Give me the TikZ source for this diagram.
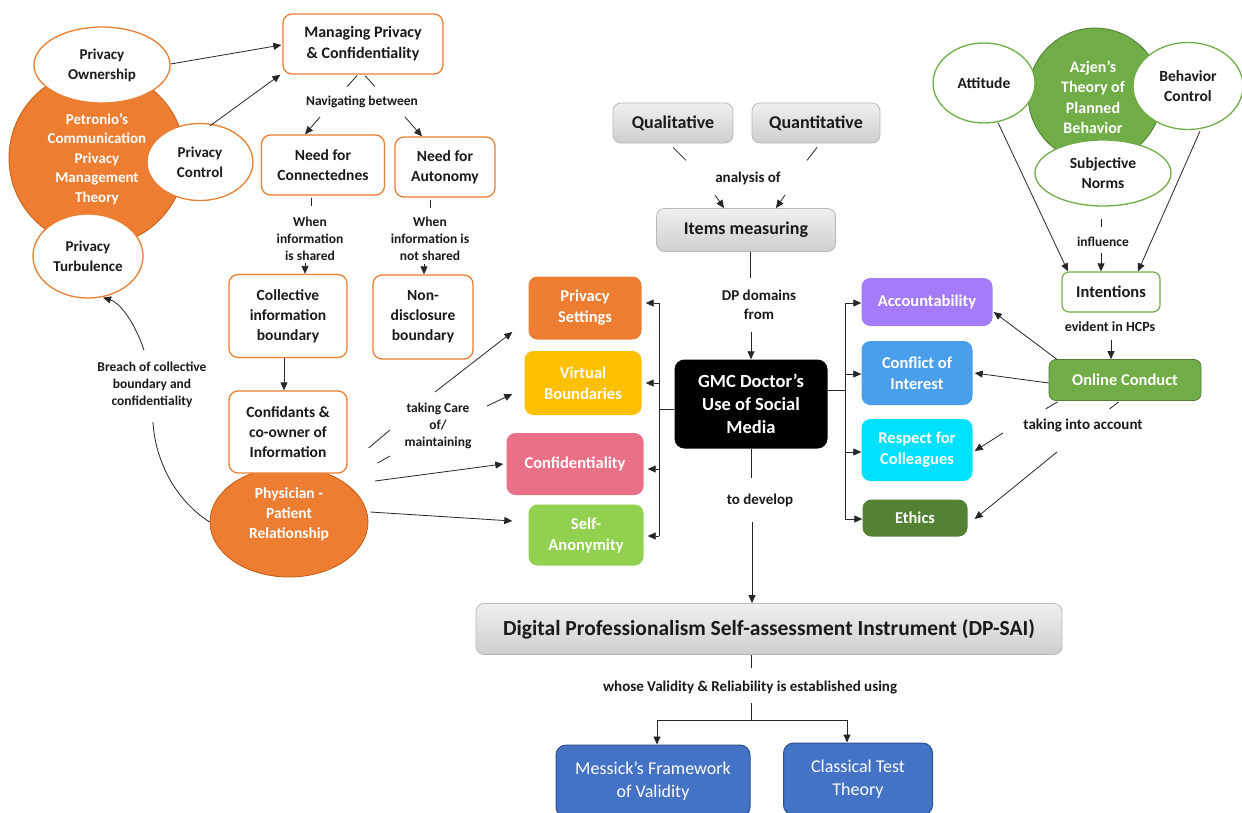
\documentclass[tikz,border=0pt]{standalone}
\usepackage{fontspec}
\setmainfont{Carlito}
\usetikzlibrary{arrows.meta,shapes.geometric,calc}
\definecolor{orC}{HTML}{ED7D31}
\definecolor{orD}{HTML}{C55A11}
\definecolor{yeC}{HTML}{FFC000}
\definecolor{piC}{HTML}{E97086}
\definecolor{lgC}{HTML}{92D050}
\definecolor{puC}{HTML}{A47BF9}
\definecolor{blC}{HTML}{4A9FEC}
\definecolor{cyC}{HTML}{00E0FF}
\definecolor{dgC}{HTML}{548235}
\definecolor{grC}{HTML}{70AD47}
\definecolor{grD}{HTML}{507E32}
\definecolor{dbC}{HTML}{4472C4}
\definecolor{dbD}{HTML}{2F528F}
\definecolor{txC}{HTML}{1A1A1A}
\begin{document}
\begin{tikzpicture}[x=1pt,y=-1pt,
  sz/.style 2 args={minimum width=#1,minimum height=#2},
  base/.style={font=\bfseries\fontsize{15.5}{20}\selectfont,align=center,inner sep=0pt,text=txC},
  obox/.style={base,draw=orC,line width=1.3pt,fill=white,rounded corners=9pt},
  oell/.style={base,ellipse,draw=orC,line width=1.3pt,fill=white,font=\bfseries\fontsize{15}{20}\selectfont},
  gell/.style={base,ellipse,draw=grC,line width=1.3pt,fill=white,font=\bfseries\fontsize{15.5}{20}\selectfont},
  cbox/.style={base,rounded corners=9pt,text=white,font=\bfseries\fontsize{16.5}{21}\selectfont},
  gbox/.style={base,rounded corners=8pt,top color=gray!12,bottom color=gray!38,draw=gray!55,line width=0.8pt,font=\bfseries\fontsize{18}{22}\selectfont},
  bbox/.style={base,rounded corners=10pt,fill=dbC,draw=dbD,line width=1pt,text=white,font=\fontsize{18}{23}\selectfont},
  lab/.style={font=\bfseries\fontsize{13.5}{17}\selectfont,align=center,inner sep=1pt,text=txC},
  labB/.style={font=\bfseries\fontsize{15}{19}\selectfont,align=center,inner sep=1pt,text=txC},
  ln/.style={line width=0.8pt,draw=black!85},
  arr/.style={ln,-{Triangle[length=8pt,width=7pt]}}
]
\useasboundingbox (0,0) rectangle (1242,812);
\fill[white] (0,0) rectangle (1242,812);

% ---------- Petronio cluster ----------
\node[circle,fill=orC,draw=orD,line width=0.8pt,minimum size=176,inner sep=0pt] (pet) at (97,158) {};
\node[base,text=white,font=\bfseries\fontsize{15}{19.5}\selectfont] (petT) at (97,159) {Petronio’s\\Communication\\Privacy\\Management\\Theory};
\node[oell,sz={136}{76}] (own) at (102,65) {Privacy\\Ownership};
\node[oell,sz={106}{77}] (ctl) at (200,162) {Privacy\\Control};
\node[oell,sz={110}{84}] (turb) at (88,256) {Privacy\\Turbulence};

% ---------- orange boxes ----------
\node[obox,sz={160}{60},font=\bfseries\fontsize{16}{21}\selectfont] (man) at (363,44) {Managing Privacy\\\& Confidentiality};
\node[obox,sz={123}{60}] (conn) at (323,165) {Need for\\Connectednes};
\node[obox,sz={100}{60}] (aut) at (445,167) {Need for\\Autonomy};
\node[obox,sz={118}{83}] (coll) at (288,316) {Collective\\information\\boundary};
\node[obox,sz={100}{84}] (nond) at (423,317) {Non-\\disclosure\\boundary};
\node[ellipse,fill=orC,draw=orD,line width=0.8pt,sz={158}{110},inner sep=0pt] (phys) at (289,522) {};
\node[base,text=white] (physT) at (289,514) {Physician -\\Patient\\Relationship};
\node[obox,sz={118}{82}] (conf) at (288,432) {Confidants \&\\co-owner of\\Information};

% labels left
\node[lab] (nav) at (362,102) {Navigating between};
\node[lab] (whS) at (310,239) {When\\information\\is shared};
\node[lab] (whN) at (430,239) {When\\information is\\not shared};
\node[lab] (brc) at (152,385) {Breach of collective\\boundary and\\confidentiality};
\node[lab] (care) at (438,426) {taking Care\\of/\\maintaining};

% ---------- center ----------
\node[gbox,sz={120}{40}] (qual) at (673,123) {Qualitative};
\node[gbox,sz={128}{40}] (quan) at (816,123) {Quantitative};
\node[labB] (ana) at (748,178) {analysis of};
\node[gbox,sz={179}{43}] (items) at (746,230) {Items measuring};
\node[labB] (dpd) at (759,305) {DP domains\\from};
\node[base,rounded corners=10pt,fill=black,text=white,sz={153}{89},font=\bfseries\fontsize{18.5}{23}\selectfont] (gmc) at (751,404) {GMC Doctor’s\\Use of Social\\Media};
\node[labB] (dev) at (760,500) {to develop};
\node[gbox,sz={586}{51},font=\bfseries\fontsize{21.5}{24}\selectfont] (dps) at (769,629) {Digital Professionalism Self-assessment Instrument (DP-SAI)};
\node[labB] (whose) at (750,687) {whose Validity \& Reliability is established using};
\node[bbox,sz={194}{72}] (mes) at (653,781) {Messick’s Framework\\of Validity};
\node[bbox,sz={149}{72}] (ctt) at (858,779) {Classical Test\\Theory};

% colored domain boxes
\node[cbox,fill=orC,sz={113}{63}] (ps) at (585,308) {Privacy\\Settings};
\node[cbox,fill=yeC,sz={117}{64}] (vb) at (583,383) {Virtual\\Boundaries};
\node[cbox,fill=piC,sz={137}{62}] (cf) at (575,464) {Confidentiality};
\node[cbox,fill=lgC,sz={115}{61}] (sa) at (586,535) {Self-\\Anonymity};
\node[cbox,fill=puC,sz={131}{48}] (acc) at (927,302) {Accountability};
\node[cbox,fill=blC,sz={111}{64}] (coi) at (917,373) {Conflict of\\Interest};
\node[cbox,fill=cyC,sz={111}{62}] (rfc) at (917,450) {Respect for\\Colleagues};
\node[cbox,fill=dgC,sz={105}{37}] (eth) at (915,518) {Ethics};

% ---------- Azjen cluster ----------
\node[circle,fill=grC,draw=grD,line width=0.8pt,minimum size=134,inner sep=0pt] (azj) at (1095,95) {};
\node[base,text=white,font=\bfseries\fontsize{16}{20.5}\selectfont] (azjT) at (1093,97) {Azjen’s\\Theory of\\Planned\\Behavior};
\node[gell,sz={102}{80}] (att) at (984,83) {Attitude};
\node[gell,sz={110}{87}] (bc) at (1188,86) {Behavior\\Control};
\node[gell,sz={136}{66}] (sn) at (1103,173) {Subjective\\Norms};
\node[lab] (infl) at (1103,242) {influence};
\node[base,draw=grC,line width=1.2pt,fill=white,rounded corners=7pt,sz={98}{40},font=\bfseries\fontsize{16.5}{20}\selectfont] (int) at (1111,292) {Intentions};
\node[lab,font=\bfseries\fontsize{14}{17}\selectfont] (evid) at (1110,327) {evident in HCPs};
\node[cbox,fill=grC,draw=grD,line width=0.8pt,rounded corners=7pt,sz={152}{41}] (onl) at (1125,380) {Online Conduct};
\node[labB] (tia) at (1083,425) {taking into account};

% bracket coordinates
\coordinate (lb) at (659,409);
\coordinate (rb) at (845,390);
\coordinate (bb) at (751,720);

% ---------- connectors: left ----------
\draw[arr] ($(own.east)+(0,-1)$) -- ($(man.west)+(-1,1)$);
\draw[arr] ($(ctl.north)+(10,3)$) -- ($(man.south west)+(-2,0)$);
\draw[ln] ($(man.south)+(-6,1)$) -- ++(-10,11);
\draw[ln] ($(man.south)+(2,1)$) -- ++(10,11);
\draw[arr] ($(nav)+(-42,15)$) -- ($(conn.north)+(-18,0)$);
\draw[arr] ($(nav)+(43,15)$) -- ($(aut.north)+(-23,0)$);
\draw[ln] ($(conn.south)+(-12,2)$) -- ++(0,8);
\draw[ln] ($(aut.south)+(-15,2)$) -- ++(0,8);
\draw[arr] ($(whS)+(-5,24)$) -- ($(coll.north)+(17,0)$);
\draw[arr] ($(whN)+(-6,25)$) -- ($(nond.north)+(1,0)$);
\draw[arr] ($(coll.south)+(-4,0)$) -- ($(conf.north)+(-4,0)$);
\draw[ln] (phys.west) .. controls (175,500) and (155,460) .. ($(brc)+(1,37)$);
\draw[arr] ($(brc)+(-8,-35)$) .. controls (133,318) and (118,302) .. ($(turb.south)+(15,-1)$);
\draw[ln] ($(conf.east)+(21,16)$) -- ($(care)+(-48,4)$);
\draw[ln] ($(conf.east)+(30,31)$) -- ($(care)+(-48,30)$);
\draw[arr] ($(care)+(-3,-34)$) -- ($(ps.west)+(-16,24)$);
\draw[arr] ($(care)+(49,-20)$) -- ($(vb.west)+(-12,11)$);
\draw[arr] ($(phys)+(86,-41)$) -- ($(cf.west)+(-3,0)$);
\draw[arr] ($(phys.east)+(2,-10)$) -- ($(sa.west)+(-16,-14)$);

% ---------- connectors: center ----------
\draw[ln] ($(qual.south)+(0,4)$) -- ++(13,13);
\draw[ln] ($(quan.south)+(1,4)$) -- ++(-10,13);
\draw[arr] ($(ana)+(-33,17)$) -- ($(items.north)+(-22,0)$);
\draw[arr] ($(ana)+(37,17)$) -- ($(items.north)+(30,0)$);
\draw[ln] ($(items.south)+(4,0)$) -- ($(dpd)+(-9,-27)$);
\draw[arr] ($(dpd)+(-8,27)$) -- (gmc.north);
\draw[ln] ($(gmc.west)+(0,5)$) -- (lb);
\draw[ln] (lb |- 0,303) -- (lb |- 0,536);
\draw[arr] (lb |- 0,303) -- ($(ps.east)+(4,-5)$);
\draw[arr] (lb |- 0,383) -- ($(vb.east)+(4,0)$);
\draw[arr] (lb |- 0,469) -- ($(cf.east)+(4,5)$);
\draw[arr] (lb |- 0,536) -- ($(sa.east)+(4,1)$);
\draw[ln] ($(gmc.east)+(0,-14)$) -- (rb);
\draw[ln] (rb |- 0,303) -- (rb |- 0,519);
\draw[arr] (rb |- 0,303) -- ($(acc.west)+(0,1)$);
\draw[arr] (rb |- 0,374) -- ($(coi.west)+(0,1)$);
\draw[arr] (rb |- 0,452) -- ($(rfc.west)+(0,2)$);
\draw[arr] (rb |- 0,519) -- ($(eth.west)+(0,1)$);
\draw[ln] (gmc.south) -- ($(dev)+(-9,-22)$);
\draw[arr] ($(dev)+(-8,22)$) -- ($(dps.north)+(-17,0)$);
\draw[ln] ($(dps.south)+(-18,0)$) -- ($(whose)+(1,-19)$);
\draw[ln] ($(whose)+(1,16)$) -- (bb);
\draw[ln] (bb -| 0,0) ++(657,0) -- ++(190,0);
\draw[arr] (657,720) -- ($(mes.north)+(4,0)$);
\draw[arr] (847,720) -- ($(ctt.north)+(-11,0)$);

% ---------- connectors: right ----------
\draw[arr] ($(att.south)+(14,-1)$) -- ($(int.north)+(-43,0)$);
\draw[ln] ($(sn.south)+(-2,12)$) -- ++(0,8);
\draw[arr] ($(infl)+(-2,11)$) -- ($(int.north)+(-10,0)$);
\draw[arr] ($(bc.south)+(12,1)$) -- ($(int.north)+(27,0)$);
\draw[arr] ($(evid)+(1,13)$) -- ($(onl.north)+(-14,0)$);
\draw[arr] ($(onl.north west)+(8,0)$) -- ($(acc.east)+(1,10)$);
\draw[arr] ($(onl.west)+(0,3)$) -- ($(coi.east)+(2,0)$);
\draw[ln] ($(onl.south west)+(9,1)$) -- ++(-12,7);
\draw[ln] ($(onl.south west)+(70,1)$) -- ++(-9,7);
\draw[arr] ($(tia)+(-80,8)$) -- ($(rfc.east)+(2,1)$);
\draw[arr] ($(tia)+(-26,27)$) -- ($(eth.east)+(7,1)$);
\end{tikzpicture}
\end{document}
